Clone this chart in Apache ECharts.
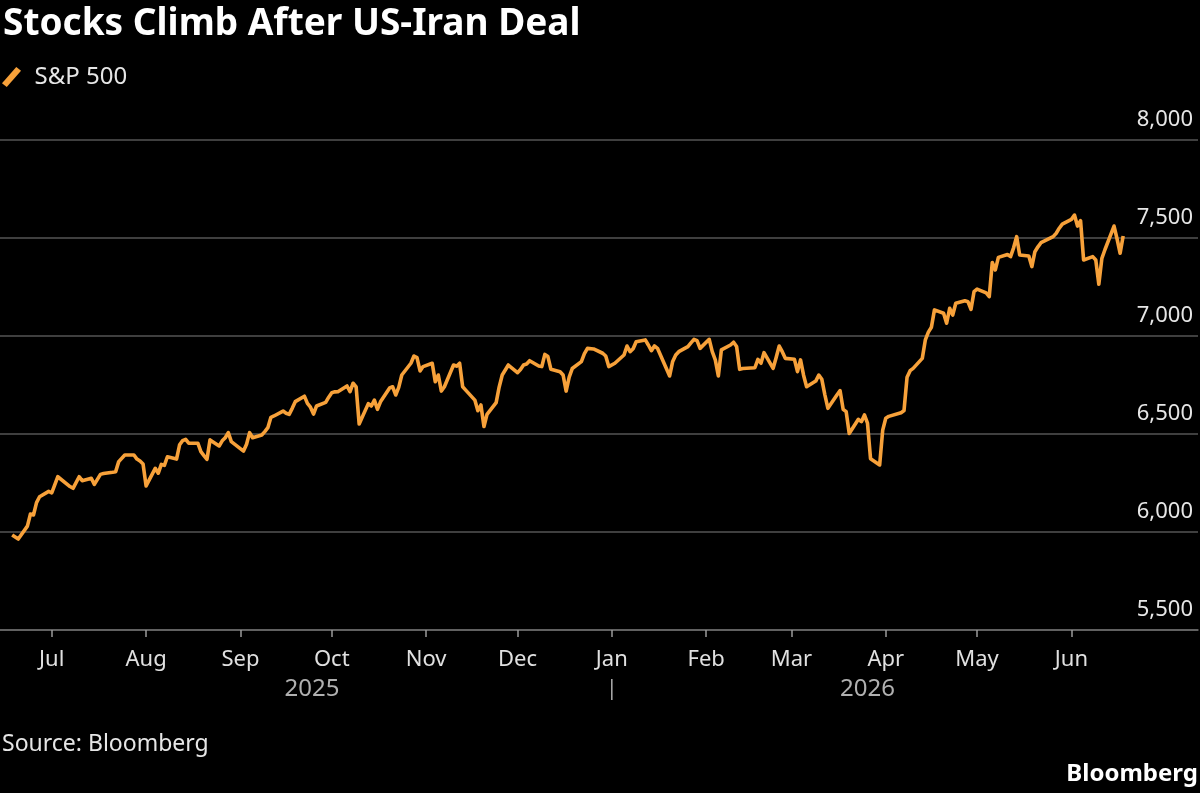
<!DOCTYPE html>
<html><head><meta charset="utf-8">
<script src="https://cdn.jsdelivr.net/npm/echarts@6/dist/echarts.min.js"></script>
<style>html,body{margin:0;padding:0;background:#000;}#c{width:1200px;height:793px;}</style>
</head><body><div id="c"></div>
<script>
const titleText = 'Stocks Climb After US-Iran Deal';
const seriesName = 'S&P 500';
const sourceText = 'Source: Bloomberg';
const brandText = 'Bloomberg';
const monthNames = ['Jan','Feb','Mar','Apr','May','Jun','Jul','Aug','Sep','Oct','Nov','Dec'];
const monthTicks = ['2025-07-01','2025-08-01','2025-09-01','2025-10-01','2025-11-01','2025-12-01','2026-01-01','2026-02-01','2026-03-01','2026-04-01','2026-05-01','2026-06-01'];
const yearLabels = ['2025','2026'];
const yearBoundary = '2026-01-01';

const dates = [
'2025-06-18','2025-06-20','2025-06-23','2025-06-24','2025-06-25','2025-06-26','2025-06-27','2025-06-30',
'2025-07-01','2025-07-03','2025-07-07','2025-07-08','2025-07-10','2025-07-11','2025-07-14','2025-07-15','2025-07-17','2025-07-18','2025-07-21','2025-07-22','2025-07-23','2025-07-25','2025-07-28','2025-07-29','2025-07-30','2025-07-31',
'2025-08-01','2025-08-04','2025-08-05','2025-08-06','2025-08-07','2025-08-08','2025-08-11','2025-08-12','2025-08-13','2025-08-14','2025-08-15','2025-08-18','2025-08-19','2025-08-20','2025-08-21','2025-08-22','2025-08-25','2025-08-26','2025-08-27','2025-08-28','2025-08-29',
'2025-09-02','2025-09-03','2025-09-04','2025-09-05','2025-09-08','2025-09-09','2025-09-10','2025-09-11','2025-09-12','2025-09-15','2025-09-16','2025-09-17','2025-09-18','2025-09-19','2025-09-22','2025-09-23','2025-09-24','2025-09-25','2025-09-26','2025-09-29','2025-09-30',
'2025-10-01','2025-10-02','2025-10-03','2025-10-06','2025-10-07','2025-10-08','2025-10-09','2025-10-10','2025-10-13','2025-10-14','2025-10-15','2025-10-16','2025-10-17','2025-10-20','2025-10-21','2025-10-22','2025-10-23','2025-10-24','2025-10-27','2025-10-28','2025-10-29','2025-10-30','2025-10-31',
'2025-11-03','2025-11-04','2025-11-05','2025-11-06','2025-11-07','2025-11-10','2025-11-11','2025-11-12','2025-11-13','2025-11-14','2025-11-17','2025-11-18','2025-11-19','2025-11-20','2025-11-21','2025-11-24','2025-11-25','2025-11-26','2025-11-28',
'2025-12-01','2025-12-02','2025-12-03','2025-12-04','2025-12-05','2025-12-08','2025-12-09','2025-12-10','2025-12-11','2025-12-12','2025-12-15','2025-12-16','2025-12-17','2025-12-18','2025-12-19','2025-12-22','2025-12-23','2025-12-24','2025-12-26','2025-12-29','2025-12-30','2025-12-31',
'2026-01-02','2026-01-05','2026-01-06','2026-01-07','2026-01-08','2026-01-09','2026-01-12','2026-01-13','2026-01-14','2026-01-15','2026-01-16','2026-01-20','2026-01-21','2026-01-22','2026-01-23','2026-01-26','2026-01-27','2026-01-28','2026-01-29','2026-01-30',
'2026-02-02','2026-02-03','2026-02-04','2026-02-05','2026-02-06','2026-02-09','2026-02-10','2026-02-11','2026-02-12','2026-02-13','2026-02-17','2026-02-18','2026-02-19','2026-02-20','2026-02-23','2026-02-24','2026-02-25','2026-02-26','2026-02-27',
'2026-03-02','2026-03-03','2026-03-04','2026-03-05','2026-03-06','2026-03-09','2026-03-10','2026-03-11','2026-03-12','2026-03-13','2026-03-16','2026-03-17','2026-03-18','2026-03-19','2026-03-20','2026-03-23','2026-03-24','2026-03-25','2026-03-26','2026-03-27','2026-03-30','2026-03-31',
'2026-04-01','2026-04-02','2026-04-06','2026-04-07','2026-04-08','2026-04-09','2026-04-10','2026-04-13','2026-04-14','2026-04-15','2026-04-16','2026-04-17','2026-04-20','2026-04-21','2026-04-22','2026-04-23','2026-04-24','2026-04-27','2026-04-28','2026-04-29','2026-04-30',
'2026-05-01','2026-05-04','2026-05-05','2026-05-06','2026-05-07','2026-05-08','2026-05-11','2026-05-12','2026-05-13','2026-05-14','2026-05-15','2026-05-18','2026-05-19','2026-05-20','2026-05-21','2026-05-22','2026-05-26','2026-05-27','2026-05-28','2026-05-29',
'2026-06-01','2026-06-02','2026-06-03','2026-06-04','2026-06-05','2026-06-08','2026-06-09','2026-06-10','2026-06-11','2026-06-12','2026-06-15','2026-06-16','2026-06-17','2026-06-18'
];
const values = [
5985,5964,6030,6092,6087,6150,6180,6207,
6200,6282,6232,6223,6282,6262,6274,6243,6294,6298,6305,6308,6359,6393,6393,6372,6362,6347,
6235,6325,6300,6345,6340,6384,6372,6445,6466,6473,6453,6453,6410,6390,6371,6470,6439,6465,6481,6507,6461,
6413,6448,6507,6481,6495,6512,6532,6585,6592,6617,6606,6600,6631,6665,6693,6656,6637,6602,6643,6661,6688,
6711,6715,6716,6745,6716,6759,6740,6551,6655,6643,6673,6626,6664,6735,6741,6699,6738,6801,6861,6898,6890,6822,6844,
6861,6767,6801,6719,6741,6852,6846,6861,6741,6724,6673,6619,6648,6538,6600,6660,6740,6801,6852,
6813,6829,6852,6857,6874,6847,6844,6906,6895,6830,6818,6801,6719,6790,6834,6869,6910,6937,6934,6912,6898,6844,
6861,6903,6949,6920,6935,6971,6980,6954,6925,6949,6937,6796,6870,6903,6920,6946,6965,6983,6976,6937,
6983,6920,6878,6796,6929,6954,6968,6946,6830,6834,6838,6881,6861,6915,6835,6890,6949,6920,6886,
6881,6818,6878,6800,6741,6770,6801,6779,6700,6631,6700,6721,6626,6614,6503,6575,6563,6597,6555,6374,6342,6520,
6580,6590,6608,6620,6790,6823,6835,6886,6980,7020,7045,7133,7116,7065,7141,7107,7167,7180,7175,7136,7226,
7239,7220,7201,7375,7337,7401,7416,7405,7450,7507,7413,7408,7354,7430,7455,7476,7507,7524,7550,7571,
7595,7617,7561,7588,7388,7405,7388,7264,7396,7440,7561,7495,7422,7510
];

const FONT = 'Noto Sans';
const toTs = s => echarts.number.parseDate(s).getTime();
const chart = echarts.init(document.getElementById('c'), null, {renderer: 'canvas'});
const seriesData = dates.map((d, i) => [toTs(d), values[i]]);
const tickTs = monthTicks.map(toTs);

const option = {
  backgroundColor: '#000',
  animation: false,
  title: {
    text: titleText, left: -2, top: 1,
    textStyle: {color: '#fff', fontFamily: FONT, fontWeight: 'bold', fontSize: 37}
  },
  legend: {
    left: 2, top: 65, padding: 0, itemWidth: 20, itemHeight: 20, itemGap: 10,
    icon: 'path://M0,17 L15,0 L20,4 L5,21 Z',
    textStyle: {color: '#e6e6e6', fontFamily: FONT, fontSize: 24, padding: [0,0,0,8]},
    data: [seriesName]
  },
  grid: {left: 0, right: 2, top: 140, bottom: 163, containLabel: false},
  xAxis: {
    type: 'value',
    min: toTs('2025-06-14'),
    max: toTs('2026-07-12') + 14 * 3600 * 1000,
    axisLine: {show: true, lineStyle: {color: '#6e6e6e', width: 1.5}},
    axisTick: {show: true, length: 7, lineStyle: {color: '#9a9a9a', width: 1.5}, customValues: tickTs},
    axisLabel: {
      customValues: tickTs,
      color: '#e0e0e0', fontFamily: FONT, fontSize: 22, margin: 19,
      formatter: v => monthNames[new Date(v).getMonth()]
    },
    splitLine: {show: false}
  },
  yAxis: {
    type: 'value', position: 'right', min: 5500, max: 8000, interval: 500,
    axisLine: {show: false}, axisTick: {show: false},
    axisLabel: {
      inside: true, align: 'right', verticalAlign: 'bottom', margin: 5,
      padding: [0, 0, 9, 0],
      color: '#e6e6e6', fontFamily: FONT, fontSize: 22,
      formatter: v => v.toLocaleString('en-US')
    },
    splitLine: {lineStyle: {color: '#555', width: 1.5}}
  },
  series: [{
    name: seriesName, type: 'line', data: seriesData,
    showSymbol: false, symbol: 'none',
    lineStyle: {color: '#F7A13A', width: 3.6, join: 'round'},
    itemStyle: {color: '#F7A13A'}
  }]
};
chart.setOption(option);

const firstTs = toTs(dates[0]);
const lastTs = toTs(dates[dates.length - 1]);
const bTs = toTs(yearBoundary);
const px = t => chart.convertToPixel({xAxisIndex: 0}, t);
const yAxisY = chart.convertToPixel({yAxisIndex: 0}, 5500);
const x0 = px(firstTs), xb = px(bTs), x1 = px(lastTs);
chart.setOption({
  graphic: [
    {type: 'text', x: (x0 + xb) / 2, y: yAxisY + 59, style: {text: yearLabels[0], fill: '#b0b0b0', font: '24px "Noto Sans"', textAlign: 'center', textVerticalAlign: 'middle'}},
    {type: 'text', x: (xb + x1) / 2, y: yAxisY + 59, style: {text: yearLabels[1], fill: '#b0b0b0', font: '24px "Noto Sans"', textAlign: 'center', textVerticalAlign: 'middle'}},
    {type: 'line', shape: {x1: xb, y1: yAxisY + 49, x2: xb, y2: yAxisY + 70}, style: {stroke: '#b0b0b0', lineWidth: 1.5}},
    {type: 'text', left: 2, top: 733, style: {text: sourceText, fill: '#e6e6e6', font: '23px "Noto Sans"'}},
    {type: 'text', right: 2, top: 762, style: {text: brandText, fill: '#fff', font: 'bold 24px "Noto Sans"'}}
  ]
});
</script>
</body></html>
